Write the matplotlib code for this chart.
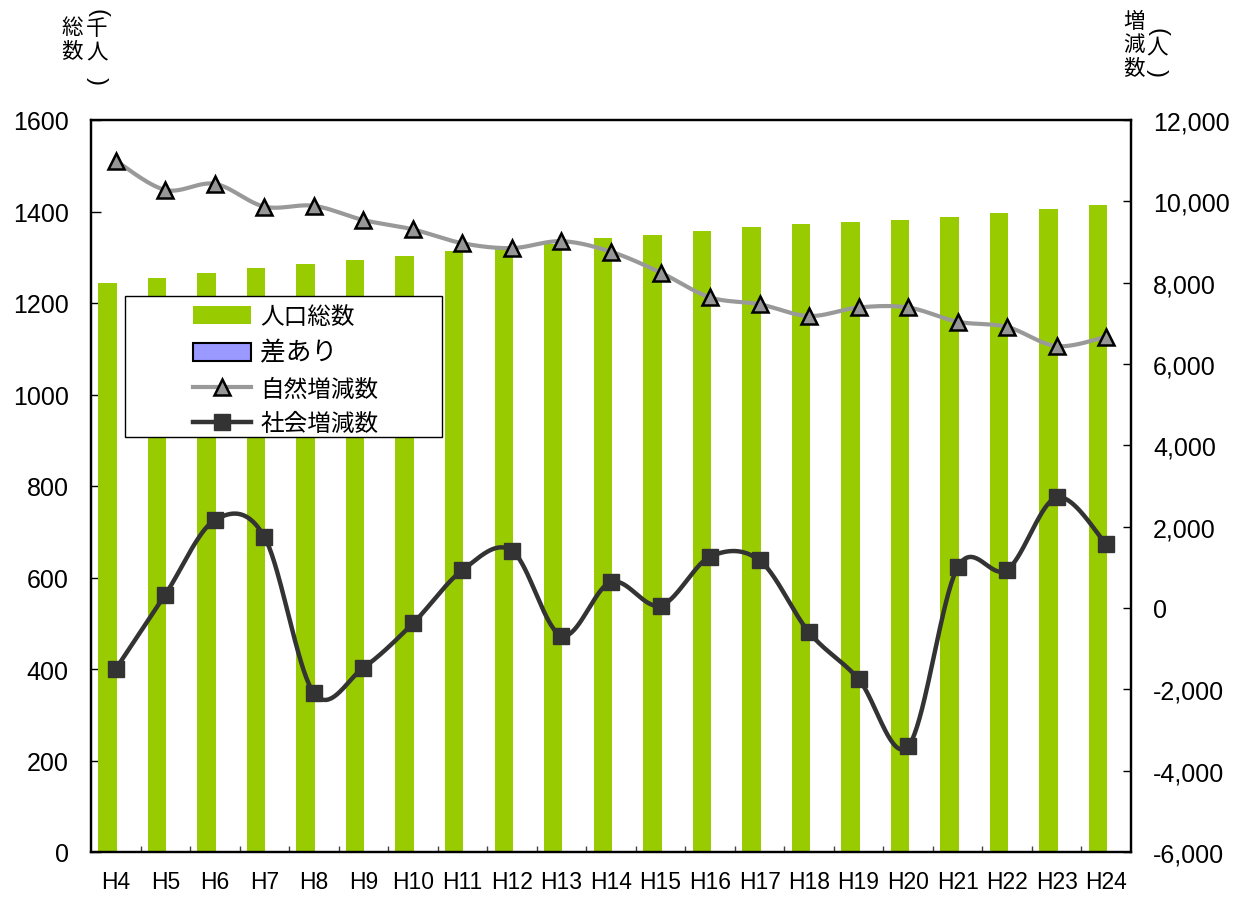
import matplotlib
matplotlib.use('Agg')
import matplotlib.pyplot as plt
from matplotlib.patches import Rectangle, Patch
from matplotlib.lines import Line2D
from matplotlib.ticker import FuncFormatter, MultipleLocator
import numpy as np

plt.rcParams['font.family'] = ['Liberation Sans', 'Noto Sans CJK JP', 'DejaVu Sans']

years = ['H4', 'H5', 'H6', 'H7', 'H8', 'H9', 'H10', 'H11', 'H12', 'H13', 'H14',
         'H15', 'H16', 'H17', 'H18', 'H19', 'H20', 'H21', 'H22', 'H23', 'H24']
# 人口総数 (千人)
population = [1244, 1254, 1266, 1277, 1286, 1294, 1303, 1313, 1320, 1330, 1341,
              1349, 1358, 1367, 1373, 1378, 1382, 1389, 1397, 1405, 1415]
# 自然増減数 (人)
natural = [11000, 10280, 10430, 9870, 9890, 9540, 9310, 8970, 8850, 9020, 8760,
           8250, 7640, 7470, 7180, 7390, 7390, 7040, 6910, 6440, 6670]
# 社会増減数 (人)
social = [-1500, 330, 2160, 1750, -2090, -1470, -380, 930, 1410, -680, 640,
          60, 1260, 1170, -600, -1750, -3400, 1000, 940, 2720, 1570]

GREEN = '#99CC00'
GREY = '#999999'
DARK = '#333333'
JP = ['Noto Sans CJK JP', 'DejaVu Sans']


def smooth(xs, ys, n=40):
    # excel-like smoothed line (catmull-rom as cubic bezier)
    xs = np.asarray(xs, float)
    ys = np.asarray(ys, float)
    px = np.concatenate([[xs[0]], xs, [xs[-1]]])
    py = np.concatenate([[ys[0]], ys, [ys[-1]]])
    t = np.linspace(0, 1, n)[:, None]
    pts = []
    for i in range(len(xs) - 1):
        p0 = np.array([px[i], py[i]])
        p1 = np.array([px[i + 1], py[i + 1]])
        p2 = np.array([px[i + 2], py[i + 2]])
        p3 = np.array([px[i + 3], py[i + 3]])
        c1 = p1 + (p2 - p0) / 6
        c2 = p2 - (p3 - p1) / 6
        seg = ((1 - t) ** 3) * p1 + 3 * ((1 - t) ** 2) * t * c1 + 3 * (1 - t) * t ** 2 * c2 + t ** 3 * p2
        pts.append(seg if i == 0 else seg[1:])
    pts = np.vstack(pts)
    return pts[:, 0], pts[:, 1]


W, H = 1244, 903
fig = plt.figure(figsize=(W / 100, H / 100), dpi=100)
ax = fig.add_axes([91 / W, 1 - 853 / H, (1131 - 91) / W, (853 - 121) / H])
ax2 = ax.twinx()

x = np.arange(len(years))
ax.bar(x + 0.02, population, width=-0.372, align='edge', color=GREEN, zorder=2)

ax.set_xlim(-0.5, len(years) - 0.5)
ax.set_ylim(0, 1600)
ax.yaxis.set_major_locator(MultipleLocator(200))
ax.set_xticks(x)
ax.set_xticklabels(years, fontsize=16.5)
ax.set_xticks(np.arange(0.5, len(years) - 1, 1), minor=True)
ax.tick_params(axis='x', which='major', length=0, pad=13)
ax.tick_params(axis='x', which='minor', direction='in', length=4.5, width=1, color='#444444')
ax.tick_params(axis='y', direction='in', length=7, width=1, pad=16, labelsize=18)

sx, sy = smooth(x, natural)
ax2.plot(sx, sy, color=GREY, lw=3, zorder=3, solid_capstyle='round')
ax2.plot(x, natural, ls='none', marker='^', markersize=12, markerfacecolor='#969696',
         markeredgecolor='black', markeredgewidth=1.8, zorder=4)
sx, sy = smooth(x, social)
ax2.plot(sx, sy, color=DARK, lw=3.2, zorder=3, solid_capstyle='round')
ax2.plot(x, social, ls='none', marker='s', markersize=11, markerfacecolor=DARK,
         markeredgecolor=DARK, zorder=4)

ax2.set_ylim(-6000, 12000)
ax2.yaxis.set_major_locator(MultipleLocator(2000))
ax2.yaxis.set_major_formatter(FuncFormatter(lambda v, p: f'{v:,.0f}'))
ax2.tick_params(axis='y', direction='in', length=6, width=1, pad=16, labelsize=18)

for a in (ax, ax2):
    for s in a.spines.values():
        s.set_linewidth(1.6)
        s.set_color('black')

# legend box
ax2.add_patch(Rectangle((34 / 1040, (853 - 438) / 732), (442 - 125) / 1040, (438 - 297) / 732,
                        transform=ax2.transAxes, facecolor='white', edgecolor='black',
                        lw=1, zorder=5))
handles = [
    Patch(facecolor=GREEN, edgecolor='none', label='人口総数'),
    Patch(facecolor='#9999FF', edgecolor='black', linewidth=1.5, label='差あり'),
    Line2D([], [], color=GREY, lw=3, marker='^', markersize=12, markerfacecolor='#969696',
           markeredgecolor='black', markeredgewidth=1.8, label='自然増減数'),
    Line2D([], [], color=DARK, lw=3.2, marker='s', markersize=11, markerfacecolor=DARK,
           markeredgecolor=DARK, label='社会増減数'),
]
leg = ax2.legend(handles=handles, loc='upper left', bbox_to_anchor=(102 / 1040, (853 - 306) / 732),
                 frameon=False, borderpad=0, borderaxespad=0, handlelength=2.45, handleheight=0.8,
                 handletextpad=0.4, labelspacing=0.5, prop={'family': JP, 'size': 17})
leg.set_zorder(6)
leg.get_texts()[1].set_fontsize(18.5)

# vertical axis titles
def put(ch, px, py, size=15.5, fam=None, rot=0):
    fig.text(px / W, 1 - py / H, ch, ha='center', va='center', fontsize=size,
             family=fam or JP, rotation=rot)

put('総', 72, 28)
put('数', 72, 52)
put('(', 97, 13, 17, ['Liberation Sans'], -90)
put('千', 97, 29)
put('人', 97, 52)
put(')', 97, 81, 17, ['Liberation Sans'], -90)

put('増', 1134, 22)
put('減', 1134, 45)
put('数', 1134, 69)
put('(', 1157, 32, 17, ['Liberation Sans'], -90)
put('人', 1157, 47)
put(')', 1157, 73, 17, ['Liberation Sans'], -90)

fig.savefig('out.png', dpi=100)
